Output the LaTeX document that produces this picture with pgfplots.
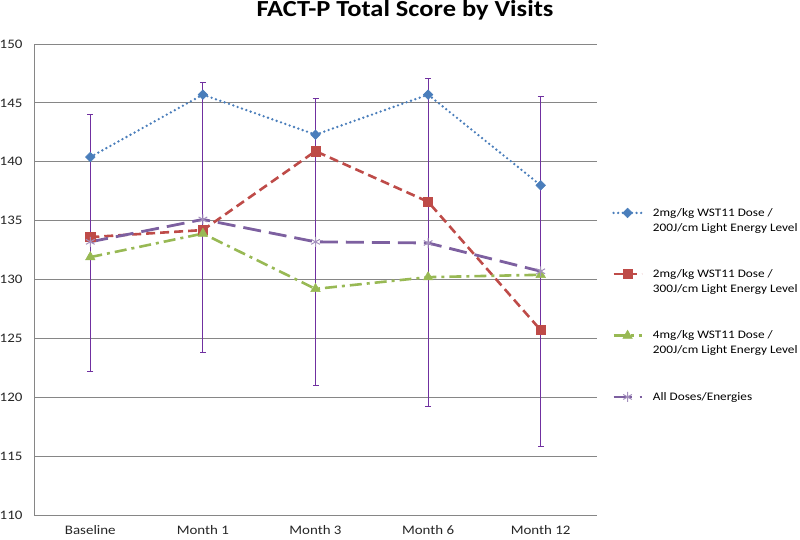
\documentclass[border=0pt]{standalone}
\usepackage{fontspec}
\setmainfont{Carlito}[FakeStretch=1.15]
\usepackage{pgfplots}
\pgfplotsset{compat=1.18}
\definecolor{cblue}{RGB}{74,126,187}
\definecolor{cred}{RGB}{190,75,72}
\definecolor{cgreen}{RGB}{152,185,84}
\definecolor{cpurple}{RGB}{125,96,160}
\definecolor{cerr}{RGB}{112,48,160}
\definecolor{cgrid}{RGB}{134,134,134}
\newcommand{\secondline}[1]{\rlap{\raisebox{-15pt}[0pt][0pt]{#1}}}
\begin{document}
\begin{tikzpicture}
\useasboundingbox (0,0) rectangle (800pt,539pt);
\begin{axis}[
  at={(34pt,24pt)}, anchor=south west,
  scale only axis, width=563pt, height=471pt,
  xmin=-0.5, xmax=4.5, ymin=110, ymax=150,
  xtick={0,1,2,3,4},
  xticklabels={Baseline,Month 1,Month 3,Month 6,Month 12},
  ytick={110,115,...,150},
  axis x line*=bottom, axis y line*=left,
  axis line style={cgrid, line width=1pt, -},
  major tick length=0pt,
  ymajorgrids, grid style={cgrid, line width=1pt},
  tick label style={font=\fontsize{13}{15}\selectfont, text=black!85},
  /pgf/number format/assume math mode=true,
  yticklabel style={xshift=-8pt},
  xticklabel style={yshift=-7pt},
  title={FACT-P Total Score by Visits},
  title style={font=\bfseries\fontsize{23}{27}\selectfont, at={(axis description cs:0.659,1)}, anchor=base, yshift=22pt},
  legend style={at={(axis description cs:1.0266,0.652)}, anchor=north west, draw=none, fill=none,
    font=\fontsize{11.5}{15}\selectfont, inner sep=0pt, row sep=51.5pt, column sep=10pt,
    nodes={inner sep=0pt}},
  legend cell align=left,
  legend image code/.code={\draw[mark repeat=2,mark phase=2,#1] plot coordinates {(0pt,0pt) (14pt,0pt) (28pt,0pt)};},
]
\addplot[draw=none, mark=none, forget plot,
  error bars/.cd, y dir=both, y explicit,
  error bar style={draw=cerr, line width=1pt, solid},
  error mark options={draw=cerr, line width=1pt, mark size=3pt, rotate=90}]
  coordinates {
  (0,133.2) += (0,10.8) -= (0,11.0)
  (1,135.1) += (0,11.6) -= (0,11.3)
  (2,133.2) += (0,12.2) -= (0,12.2)
  (3,133.1) += (0,14.0) -= (0,13.9)
  (4,130.7) += (0,14.8) -= (0,14.9)
  };
\addplot[cblue, line width=2.6pt, dash pattern=on 0pt off 4.6pt, line cap=round,
  mark=square*, mark size=3.4pt, mark options={solid, rotate=45, fill=cblue, draw=cblue, line width=0.5pt}]
  coordinates {(0,140.4) (1,145.7) (2,142.3) (3,145.7) (4,138.0)};
\addlegendentry{\secondline{200J/cm Light Energy Level}2mg/kg WST11 Dose /}
\addplot[cred, line width=2.6pt, dash pattern=on 9pt off 5pt,
  mark=square*, mark size=4.6pt, mark options={solid, fill=cred, draw=cred, line width=0.5pt}]
  coordinates {(0,133.6) (1,134.2) (2,140.9) (3,136.6) (4,125.7)};
\addlegendentry{\secondline{300J/cm Light Energy Level}2mg/kg WST11 Dose /}
\addplot[cgreen, line width=2.6pt, dash pattern=on 12pt off 5pt on 3pt off 5pt,
  mark=triangle*, mark size=5.5pt, mark options={solid, fill=cgreen, draw=cgreen, line width=0.5pt}]
  coordinates {(0,131.9) (1,133.9) (2,129.2) (3,130.2) (4,130.4)};
\addlegendentry{\secondline{200J/cm Light Energy Level}4mg/kg WST11 Dose /}
\addplot[cpurple, line width=2.8pt, dash pattern=on 18pt off 8pt,
  mark=asterisk, mark size=5pt, mark options={solid, draw=cpurple!70, line width=1pt}]
  coordinates {(0,133.2) (1,135.1) (2,133.2) (3,133.1) (4,130.7)};
\addlegendentry{All Doses/Energies}
\end{axis}
\end{tikzpicture}
\end{document}
